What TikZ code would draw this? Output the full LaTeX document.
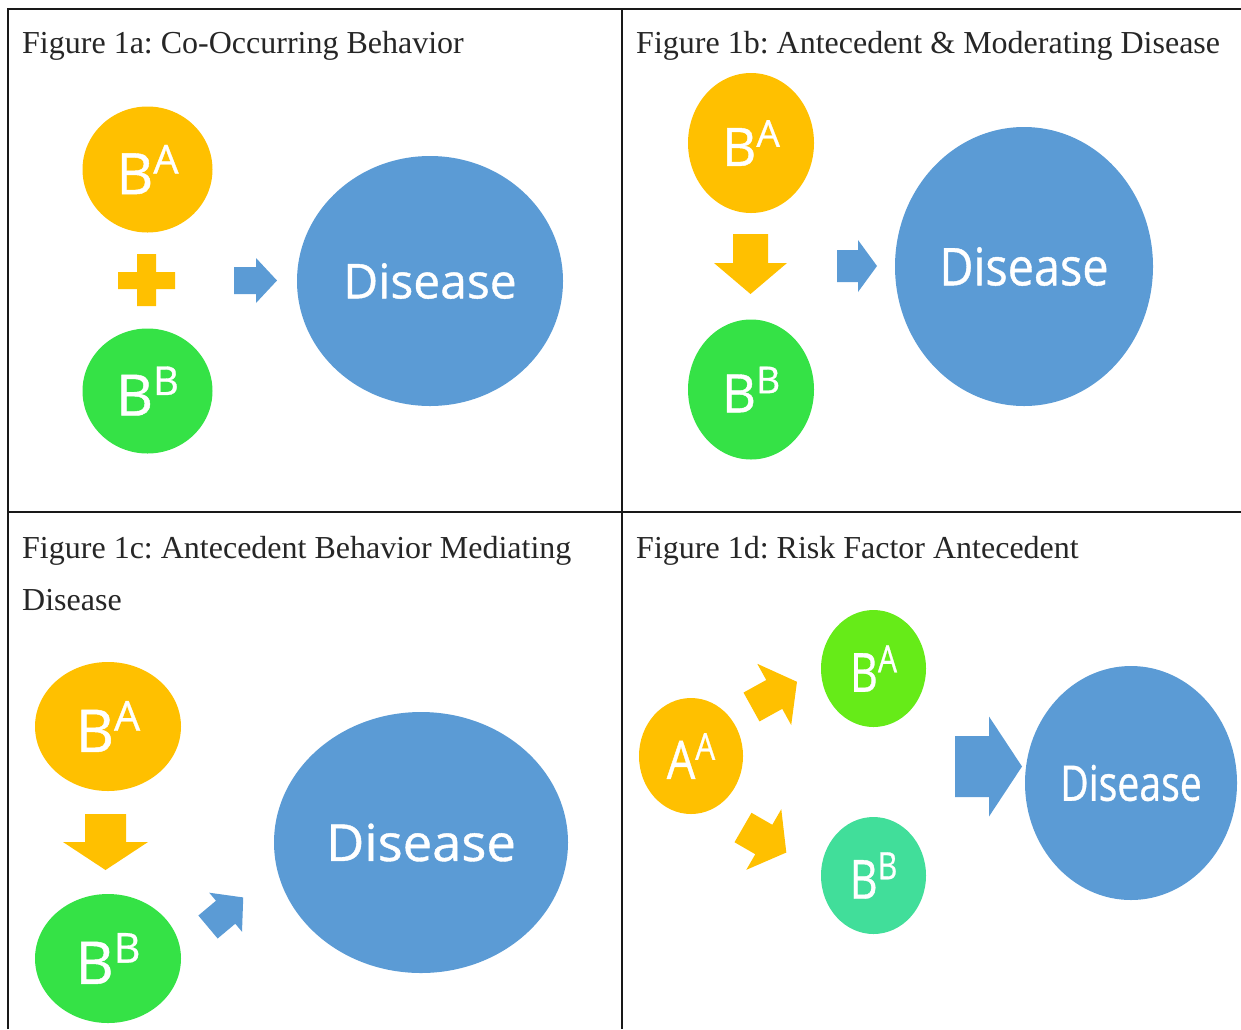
\documentclass[tikz,border=0pt]{standalone}
\usepackage{fontspec}
\usepackage{graphicx}
\setmainfont{Liberation Serif}
\newfontfamily\osans[FakeBold=0.8]{Open Sans}
\usetikzlibrary{shapes.geometric}
\frenchspacing

\definecolor{cOrange}{HTML}{FFC000}
\definecolor{cGreen}{HTML}{35E246}
\definecolor{cLime}{HTML}{66EB18}
\definecolor{cMint}{HTML}{41DE9A}
\definecolor{cBlue}{HTML}{5B9BD5}

% letter with a raised smaller letter
\newcommand{\bsup}[2]{#1\raisebox{0.36em}{\scalebox{0.7}{#2}}}

\tikzset{
  ttl/.style={anchor=base west, inner sep=0pt, text=black!85,
    font=\fontsize{32}{32}\selectfont},
  blob/.style={ellipse, inner sep=0pt, text=white,
    font=\osans\fontsize{#1}{#1}\selectfont},
  rule/.style={line width=2pt, black!90},
  pics/blockarrow/.style args={#1/#2/#3/#4}{code={
    \path[pic actions] (0,{-#2/2}) -- ({#1-#4},{-#2/2}) -- ({#1-#4},{-#3/2})
      -- (#1,0) -- ({#1-#4},{#3/2}) -- ({#1-#4},{#2/2}) -- (0,{#2/2}) -- cycle;
  }},
}

\begin{document}
\begin{tikzpicture}[x=1pt,y=-1pt]
    \useasboundingbox (0,0) rectangle (1241,1029);
    % table rules
    \draw[rule] (8,1029) -- (8,8.5) -- (1241,8.5);
    \draw[rule] (622,8.5) -- (622,1029);
    \draw[rule] (8,512) -- (1241,512);

    % titles
    \node[ttl] (titleA) at (22,53) {Figure 1a: Co-Occurring Behavior};
    \node[ttl] (titleB) at (636,53) {Figure 1b: Antecedent \& Moderating Disease};
    \node[ttl] (titleC) at (22,558) {Figure 1c: Antecedent Behavior Mediating};
    \node[ttl] (titleCc) at (22,610) {Disease};
    \node[ttl] (titleD) at (636,558) {Figure 1d: Risk Factor Antecedent};

    % 1a
    \node[blob=57, fill=cOrange, minimum width=130, minimum height=126] (baA) at (147.5,169.5) {\bsup{B}{A}};
    \node[blob=57, fill=cGreen, minimum width=130, minimum height=125] (bbA) at (147.5,391) {\bsup{B}{B}};
    \node[blob=48, fill=cBlue, minimum width=266, minimum height=250] (disA) at (430,281) {Disease};
    \fill[cOrange] (118,272) rectangle (175,289) (137,254) rectangle (156,306);
    \pic[fill=cBlue] (arrA) at (234,280.5) {blockarrow=43/27/45/21};

    % 1b
    \node[blob=53, fill=cOrange, minimum width=126, minimum height=140] (baB) at (751,143) {\bsup{B}{A}};
    \node[blob=53, fill=cGreen, minimum width=126, minimum height=140] (bbB) at (751,389.5) {\bsup{B}{B}};
    \node[blob=52, fill=cBlue, minimum width=258, minimum height=279] (disB) at (1024,266.5) {\scalebox{0.9}[1]{Disease}};
    \pic[fill=cOrange, rotate=-90] (downB) at (750.5,234) {blockarrow=60/35/73/31};
    \pic[fill=cBlue] (arrB) at (837,266) {blockarrow=40/32/52/19};

    % 1c
    \node[blob=59, fill=cOrange, minimum width=146, minimum height=129] (baC) at (108,726.5) {\bsup{B}{A}};
    \node[blob=59, fill=cGreen, minimum width=146, minimum height=129] (bbC) at (108,958.5) {\bsup{B}{B}};
    \node[blob=51, fill=cBlue, minimum width=294, minimum height=261] (disC) at (421,842.5) {\scalebox{1.03}[1]{Disease}};
    \pic[fill=cOrange, rotate=-90] (downC) at (105.5,814) {blockarrow=56/41/85/28};
    \pic[fill=cBlue, rotate=40] (arrC) at (208,927) {blockarrow=46/30/51/23};

    % 1d
    \node[blob=53, fill=cOrange, minimum width=104, minimum height=116] (aaD) at (691,756) {\scalebox{0.85}[1]{\bsup{A}{A}}};
    \node[blob=54, fill=cLime, minimum width=105, minimum height=117] (baD) at (873.5,668.5) {\scalebox{0.8}[1]{\bsup{B}{A}}};
    \node[blob=54, fill=cMint, minimum width=105, minimum height=117] (bbD) at (873.5,875.5) {\scalebox{0.8}[1]{\bsup{B}{B}}};
    \node[blob=49, fill=cBlue, minimum width=212, minimum height=234] (disD) at (1131,783) {\scalebox{0.8}[1]{Disease}};
    \pic[fill=cOrange, rotate=29] (upD) at (751.5,707) {blockarrow=52/33/70/26};
    \pic[fill=cOrange, rotate=-30] (lowD) at (743,827.5) {blockarrow=50/34/70/26};
    \pic[fill=cBlue] (arrD) at (955,766.5) {blockarrow=67/61/100/33};
\end{tikzpicture}
\end{document}
